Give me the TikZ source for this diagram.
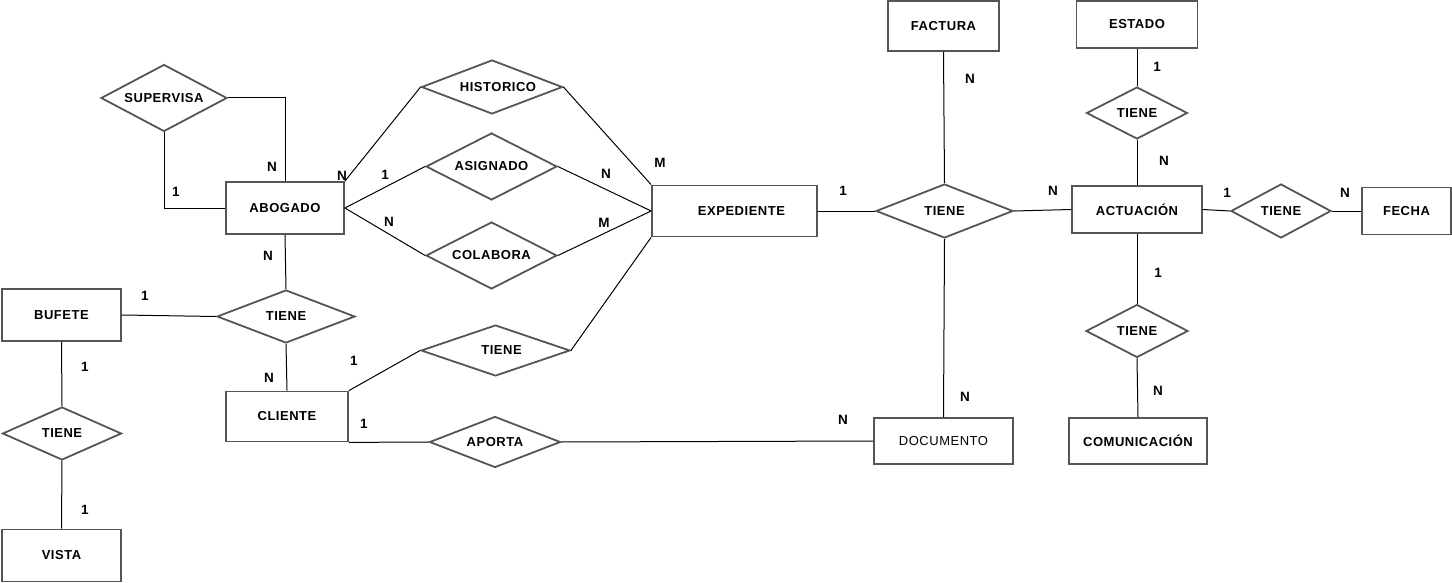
\documentclass[tikz,border=0pt]{standalone}
\usepackage{fontspec}
\setmainfont{Liberation Sans}[LetterSpace=4]
\usetikzlibrary{shapes.geometric}
\definecolor{bord}{HTML}{555555}
\tikzset{
  ent/.style={draw=bord, line width=1.8pt, rectangle, inner sep=0pt, fill=white,
    font=\fontsize{13}{15}\selectfont\bfseries},
  rel/.style={draw=bord, line width=1.8pt, diamond, aspect=2, inner sep=0pt, fill=white,
    font=\fontsize{13}{15}\selectfont\bfseries},
  card/.style={inner sep=0pt, font=\fontsize{13.5}{15}\selectfont\bfseries},
  conn/.style={draw=black, line width=1pt}
}
\begin{document}
\begin{tikzpicture}[x=1pt,y=-1pt]
\useasboundingbox (0,0) rectangle (1452,583);
\node[ent, minimum width=118pt, minimum height=52pt] (abogado) at (285,208) {ABOGADO};
\node[ent, minimum width=165pt, minimum height=51pt] (expediente) at (734.5,211) {\hspace*{14pt}EXPEDIENTE};
\node[ent, minimum width=119pt, minimum height=52pt] (bufete) at (61.5,315) {BUFETE};
\node[ent, minimum width=122pt, minimum height=50pt] (cliente) at (287,416.5) {CLIENTE};
\node[ent, minimum width=119pt, minimum height=52pt] (vista) at (61.5,555.5) {VISTA};
\node[ent, minimum width=111pt, minimum height=50pt] (factura) at (943.5,26) {FACTURA};
\node[ent, minimum width=121pt, minimum height=47pt] (estado) at (1137,24.5) {ESTADO};
\node[ent, minimum width=130pt, minimum height=47pt] (actuacion) at (1137,209.5) {ACTUACIÓN};
\node[ent, minimum width=89pt, minimum height=47pt] (fecha) at (1406.5,211) {FECHA};
\node[ent, minimum width=139pt, minimum height=46pt, font=\fontsize{13}{15}\selectfont] (documento) at (943.5,441) {DOCUMENTO};
\node[ent, minimum width=138pt, minimum height=46pt] (comunicacion) at (1138,441) {COMUNICACIÓN};

\node[rel, minimum width=126pt, minimum height=67pt] (supervisa) at (164,98) {SUPERVISA};
\node[rel, minimum width=141pt, minimum height=54pt] (historico) at (492,87) {\hspace*{12pt}HISTORICO};
\node[rel, minimum width=131pt, minimum height=67pt] (asignado) at (491.5,166.5) {ASIGNADO};
\node[rel, minimum width=131pt, minimum height=67pt] (colabora) at (491.5,255.5) {COLABORA};
\node[rel, minimum width=138pt, minimum height=53pt] (tieneA) at (286,316.5) {TIENE};
\node[rel, minimum width=119pt, minimum height=53pt] (tieneB) at (62,433.5) {TIENE};
\node[rel, minimum width=149pt, minimum height=51pt] (tieneC) at (495.5,350.5) {\hspace*{12pt}TIENE};
\node[rel, minimum width=131pt, minimum height=51pt] (aporta) at (495,442) {APORTA};
\node[rel, minimum width=137pt, minimum height=54pt] (tieneD) at (944.5,211) {TIENE};
\node[rel, minimum width=101pt, minimum height=52pt] (tieneE) at (1137,113) {TIENE};
\node[rel, minimum width=102pt, minimum height=53pt] (tieneF) at (1137,331) {TIENE};
\node[rel, minimum width=100pt, minimum height=54pt] (tieneG) at (1281,211) {TIENE};

% connectors
\draw[conn] (supervisa.east) -| (abogado.north);
\draw[conn] (supervisa.south) |- (abogado.west);
\draw[conn] (abogado.north east) -- (historico.west);
\draw[conn] (historico.east) -- (expediente.north west);
\draw[conn] (abogado.east) -- (asignado.west);
\draw[conn] (asignado.east) -- (expediente.west);
\draw[conn] (abogado.east) -- (colabora.west);
\draw[conn] (colabora.east) -- (expediente.west);
\draw[conn] (abogado.south) -- (tieneA.north);
\draw[conn] (tieneA.south) -- (cliente.north);
\draw[conn] (bufete.east) -- (tieneA.west);
\draw[conn] (bufete.south) -- (tieneB.north);
\draw[conn] (tieneB.south) -- (vista.north);
\draw[conn] (cliente.north east) -- (tieneC.west);
\draw[conn] (tieneC.east) -- (expediente.south west);
\draw[conn] (cliente.south east) -- (aporta.west);
\draw[conn] (aporta.east) -- (documento.west);
\draw[conn] (expediente.east) -- (tieneD.west);
\draw[conn] (tieneD.east) -- (actuacion.west);
\draw[conn] (factura.south) -- (tieneD.north);
\draw[conn] (tieneD.south) -- (documento.north);
\draw[conn] (estado.south) -- (tieneE.north);
\draw[conn] (tieneE.south) -- (actuacion.north);
\draw[conn] (actuacion.south) -- (tieneF.north);
\draw[conn] (tieneF.south) -- (comunicacion.north);
\draw[conn] (actuacion.east) -- (tieneG.west);
\draw[conn] (tieneG.east) -- (fecha.west);

% cardinalities
\node[card] (c1) at (272,167) {N};
\node[card] (c2) at (176,192) {1};
\node[card] (c3) at (342,176) {N};
\node[card] (c4) at (268,256) {N};
\node[card] (c5) at (385,175) {1};
\node[card] (c6) at (389,222) {N};
\node[card] (c7) at (606,174) {N};
\node[card] (c8) at (604,223) {M};
\node[card] (c9) at (660,163) {M};
\node[card] (c10) at (145,296) {1};
\node[card] (c11) at (269,378) {N};
\node[card] (c12) at (85,367) {1};
\node[card] (c13) at (85,510) {1};
\node[card] (c14) at (354,361) {1};
\node[card] (c15) at (364,424) {1};
\node[card] (c16) at (843,420) {N};
\node[card] (c17) at (965,397) {N};
\node[card] (c18) at (970,79) {N};
\node[card] (c19) at (843,191) {1};
\node[card] (c20) at (1053,191) {N};
\node[card] (c21) at (1157,67) {1};
\node[card] (c22) at (1164,161) {N};
\node[card] (c23) at (1227,193) {1};
\node[card] (c24) at (1345,193) {N};
\node[card] (c25) at (1158,273) {1};
\node[card] (c26) at (1158,391) {N};
\end{tikzpicture}
\end{document}
